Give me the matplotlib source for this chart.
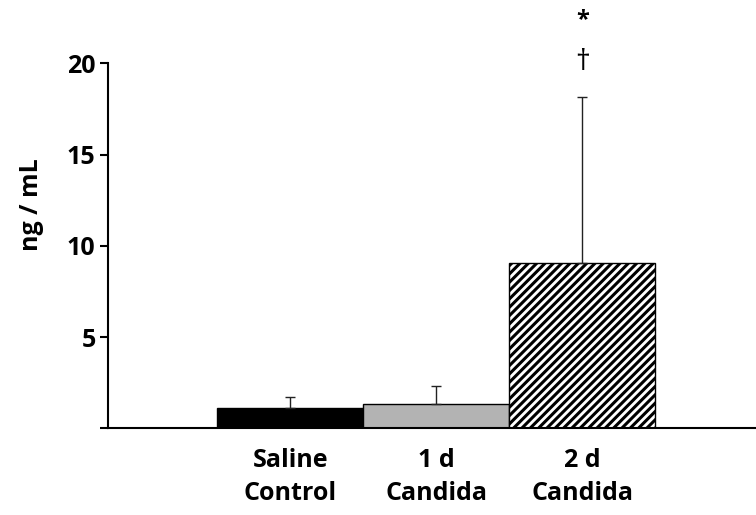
'''
IL level by treatment group, bar chart with upward error bars
'''
import numpy as np
import matplotlib
matplotlib.use('Agg')
import matplotlib.pyplot as plt

plt.rcParams['font.family'] = ['Open Sans', 'DejaVu Sans']
plt.rcParams['hatch.linewidth'] = 2.2

# values
groups = ['Saline\nControl', '1 d\nCandida', '2 d\nCandida']
means = [1.13, 1.31, 9.04]
sd_up = [0.60, 1.01, 9.10]
colors = ['black', '#b3b3b3', 'white']
hatches = ['', '', '////']
marks = ['', '', '*']
marks2 = ['', '', '\u2020']
yticks = [0, 5, 10, 15, 20]
ytick_labels = ['', '5', '10', '15', '20']

fig = plt.figure(figsize=(7.56, 5.15), dpi=100)
ax = fig.add_axes([0.1429, 0.1683, 0.857, 0.7087])

x = np.arange(len(groups))
ax.bar(x, means, width=1.0, color=colors, edgecolor='black', linewidth=1.0,
       hatch=hatches, zorder=2)
ax.errorbar(x, means, yerr=[np.zeros(len(sd_up)), sd_up], fmt='none',
            ecolor='#222222', elinewidth=1.0, capsize=3.6, capthick=1.0, zorder=3)

# significance marks above the last bar
for xi, m, m2 in zip(x, marks, marks2):
    if m:
        ax.text(xi, 20.05, m2, ha='center', va='center', fontsize=21, clip_on=False)
        ax.text(xi, 22.35, m, ha='center', va='center', fontsize=17,
                fontweight='bold', clip_on=False)

ax.set_xlim(-1.25, 3.19)
ax.set_ylim(0, 20)
ax.set_yticks(yticks)
ax.set_yticklabels(ytick_labels, fontsize=18, fontweight='bold')
ax.set_xticks(x)
ax.set_xticklabels(groups, fontsize=18, fontweight='bold', linespacing=1.45)
ax.tick_params(axis='x', length=0, pad=14)
ax.tick_params(axis='y', length=6, width=1.5, pad=3)

for side in ['top', 'right']:
    ax.spines[side].set_visible(False)
ax.spines['left'].set_linewidth(1.5)
ax.spines['bottom'].set_linewidth(1.5)

fig.text(32 / 756, 1 - 205 / 515, 'ng / mL', rotation=90, ha='center',
         va='center', fontsize=18, fontweight='bold')

fig.savefig('out.png', dpi=100)
